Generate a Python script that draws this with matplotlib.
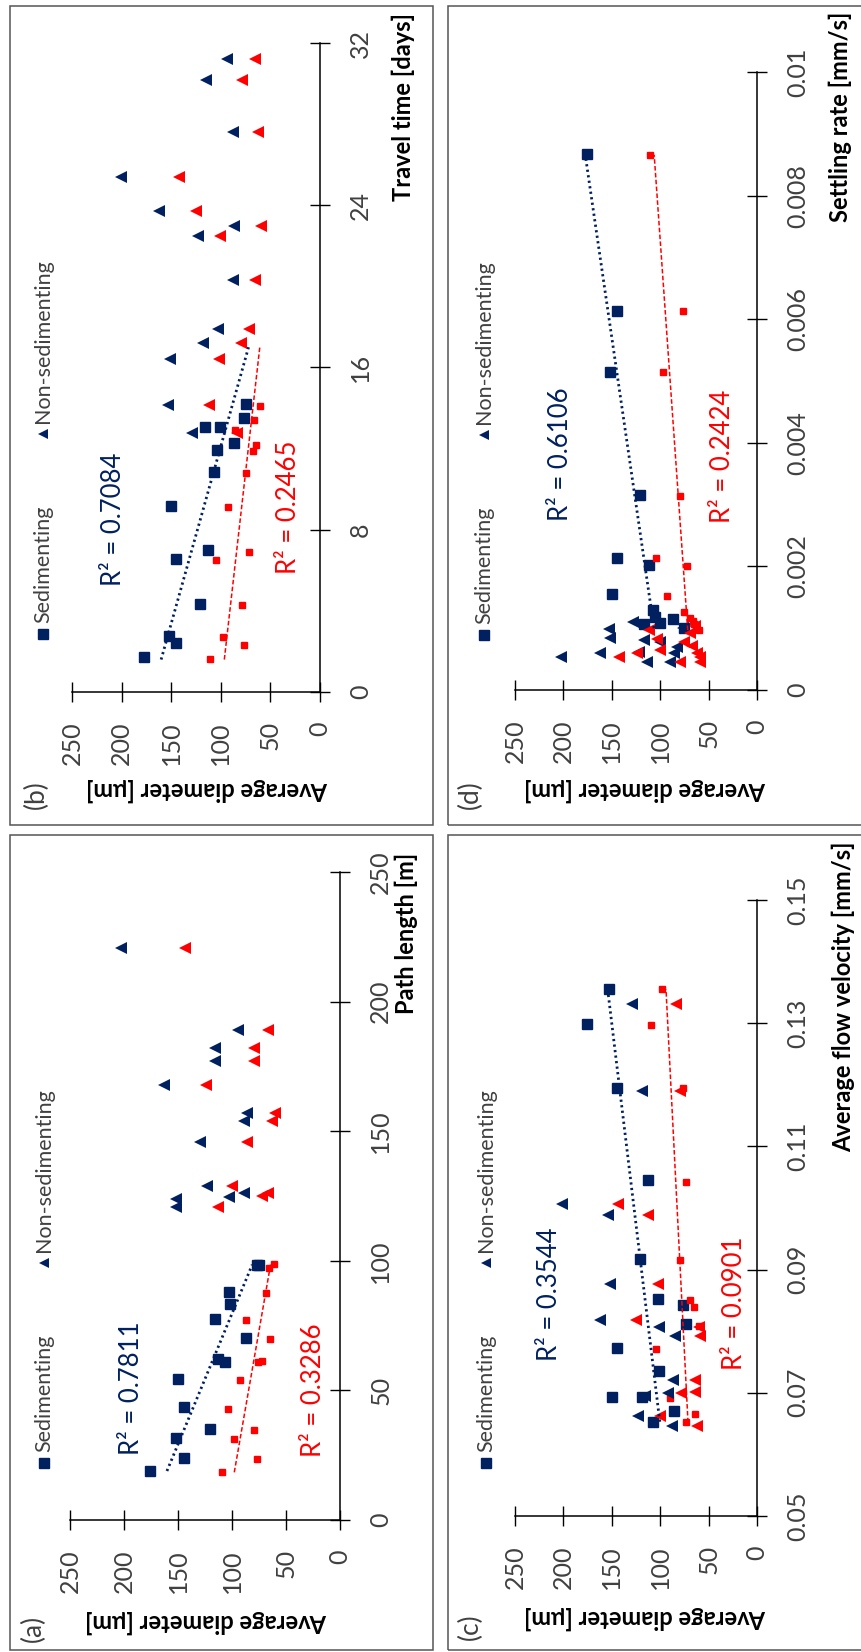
import numpy as np
import matplotlib.pyplot as plt
from matplotlib.lines import Line2D
from matplotlib.patches import Rectangle

plt.rcParams['font.family'] = ['Lato', 'DejaVu Sans']

# ---- data (diameter in um) ----
diam_ticks = [0, 50, 100, 150, 200, 250]

# (a) path length [m]
a_sed_path = [18.9, 24, 31.8, 35, 43.5, 54.5, 62, 61, 70.4, 77.7, 83.3, 88, 98.5, 98.5]
a_sed_d1 = [176, 144, 152, 120, 144, 150, 113, 106.5, 87, 116, 102, 103, 77, 75]
a_sed_path_r = [18.4, 23.5, 31.3, 34.7, 42.8, 54, 61, 61.5, 70, 77, 87.6, 97.4, 98.8]
a_sed_d2 = [109.6, 77, 97.8, 79.3, 104, 92.6, 75.6, 72, 64.8, 87.3, 68.8, 65.4, 60.8]
a_non_path = [220.8, 189, 182, 177, 168, 157, 154, 145.7, 129, 126, 124.6, 124, 120.8]
a_non_d1 = [203, 94, 116, 116, 162.6, 86.4, 88.6, 130, 123.5, 88.6, 103, 152, 152]
a_non_path_r = [220.8, 189, 182, 177, 168, 157, 154, 145.7, 129, 126, 125, 120.8]
a_non_d2 = [143.5, 66.4, 79.3, 80, 124.4, 60, 62.7, 85.8, 100.3, 66.4, 72, 113]
a_ticks = [0, 50, 100, 150, 200, 250]
a_ticklabels = ['0', '50', '100', '150', '200', '250']
a_r2 = ['R² = 0.7811', 'R² = 0.3286']

# (b) travel time [days]
b_sed_t = [1.72, 2.75, 2.42, 4.36, 6.57, 7.0, 9.19, 10.86, 11.94, 12.29, 13.06, 13.06, 13.5, 14.19]
b_sed_d1 = [177, 152.7, 145, 120.8, 145, 112.4, 150, 106.4, 103.4, 86.2, 116.4, 100.7, 76.2, 74.8]
b_sed_t_r = [1.63, 2.31, 2.69, 4.3, 6.5, 6.9, 9.1, 10.8, 11.9, 12.2, 12.9, 13.4, 14.1]
b_sed_d2 = [110.7, 76.2, 97.3, 78.9, 104.7, 71.5, 92.3, 74.5, 67.1, 64.4, 85.6, 66.1, 60.4]
b_non_t = [14.17, 12.78, 16.4, 17.2, 17.9, 20.3, 22.5, 23.0, 23.7, 25.4, 27.6, 30.2, 31.2]
b_non_d1 = [153.4, 129.2, 151, 118, 103, 87.2, 122.5, 86.2, 162, 201, 87.9, 114.8, 93.3]
b_non_d2 = [111.7, 84, 101.7, 79.9, 71.1, 65.4, 100.7, 59.7, 124.5, 142.6, 62.1, 78.9, 65.4]
b_trend_range = [1.6, 17.0]
b_ticks = [0, 8, 16, 24, 32]
b_ticklabels = ['0', '8', '16', '24', '32']
b_r2 = ['R² = 0.7084', 'R² = 0.2465']

# (c) average flow velocity [mm/s]
c_sed_v = [0.1356, 0.1298, 0.1195, 0.1045, 0.0918, 0.0852, 0.0842, 0.0811, 0.0773, 0.0735,
           0.0693, 0.0693, 0.0670, 0.0653]
c_sed_d1 = [152.7, 176, 145.1, 112.4, 120.4, 102.1, 76.3, 73.6, 145.1, 101.1, 149.6, 118.3, 86, 107.3]
c_sed_v_r = [0.1355, 0.1297, 0.1194, 0.1043, 0.0916, 0.0851, 0.0840, 0.0809, 0.0771, 0.0691,
             0.0666, 0.0652]
c_sed_d2 = [97.7, 109.7, 76.3, 72.9, 79.1, 68.8, 65.3, 59.8, 103.9, 90.1, 63.6, 73.6]
c_non_v = [0.1331, 0.1190, 0.1007, 0.0989, 0.0876, 0.0818, 0.0807, 0.0793, 0.0720, 0.0699,
           0.0695, 0.0662, 0.0646]
c_non_d1 = [129, 118.3, 201.9, 153.7, 152, 162.3, 101.1, 84.3, 86.7, 91.8, 115.9, 122.8, 87.3]
c_non_v_r = [0.1331, 0.1190, 0.1007, 0.0989, 0.0876, 0.0818, 0.0807, 0.0793, 0.0720, 0.0702,
             0.0699, 0.0662, 0.0646]
c_non_d2 = [83.2, 79.1, 143.4, 112.4, 102.1, 124.5, 59.8, 58.5, 64.3, 64.3, 78, 100.4, 61.9]
c_ticks = [0.05, 0.07, 0.09, 0.11, 0.13, 0.15]
c_ticklabels = ['0.05', '0.07', '0.09', '0.11', '0.13', '0.15']
c_r2 = ['R² = 0.3544', 'R² = 0.0901']

# (d) settling rate [mm/s]
d_sed_s = [0.00868, 0.00614, 0.00515, 0.00316, 0.00214, 0.00202, 0.00155, 0.00129, 0.00109,
           0.00107, 0.00115, 0.00100, 0.00118]
d_sed_d1 = [175.9, 144.8, 151.7, 120.7, 144.8, 112, 149.3, 107.6, 100.7, 117.2, 87.2, 75.9, 105]
d_sed_s_r = [0.00866, 0.00613, 0.00514, 0.00314, 0.00213, 0.00200, 0.00152, 0.00126, 0.00111,
             0.00106, 0.00097, 0.00116, 0.00102]
d_sed_d2 = [110.3, 76.6, 97.2, 80, 104.5, 72.4, 93.1, 75.2, 66.2, 64.8, 60.3, 69, 62.8]
d_non_s = [0.00053, 0.0006, 0.00099, 0.00084, 0.0011, 0.00062, 0.00081, 0.00046, 0.00078,
           0.00046, 0.0006, 0.0007, 0.001]
d_non_d1 = [202.8, 162, 152.4, 152, 128.3, 122.4, 117.2, 113.8, 100, 90.3, 86.2, 82.8, 76]
d_non_s_r = [0.00053, 0.0006, 0.00097, 0.00082, 0.00064, 0.00046, 0.00078, 0.00071, 0.0006,
             0.00053, 0.00046, 0.00093, 0.00104]
d_non_d2 = [143, 124, 112, 103.4, 100.7, 80, 75.9, 67.2, 62, 58.6, 58.6, 69, 64]
d_ticks = [0, 0.002, 0.004, 0.006, 0.008, 0.01]
d_ticklabels = ['0', '0.002', '0.004', '0.006', '0.008', '0.01']
d_r2 = ['R² = 0.6106', 'R² = 0.2424']

NAVY = '#002060'
RED = '#ff0000'
GREY = '#404040'
W, H = 861, 1652

fig = plt.figure(figsize=(W / 100, H / 100), dpi=100)


def fx(px):
    return px / W


def fy(py):
    return 1 - py / H


def make_panel(ax_px, ylim, ticks, ticklabels):
    x0, x1, y0, y1 = ax_px
    ax = fig.add_axes([fx(x0), fy(y1), (x1 - x0) / W, (y1 - y0) / H])
    ax.patch.set_visible(False)
    ax.set_xlim(250, 0)
    ax.set_ylim(*ylim)
    ax.spines['top'].set_visible(False)
    ax.spines['left'].set_visible(False)
    for s in ['bottom', 'right']:
        ax.spines[s].set_linewidth(1.1)
    ax.yaxis.tick_right()
    ax.set_xticks(diam_ticks)
    ax.set_xticklabels([str(t) for t in diam_ticks], rotation=90)
    ax.set_yticks(ticks)
    ax.set_yticklabels(ticklabels, rotation=90, va='center')
    ax.tick_params(direction='inout', length=14, width=1, pad=14,
                   labelsize=18, labelcolor=GREY)
    return ax


def draw_series(ax, sx, sd1, sxr, sd2, nx, nd1, nxr, nd2, trend1=None, trend2=None):
    ax.plot(sd1, sx, 's', ms=7, color=NAVY, clip_on=False)
    ax.plot(sd2, sxr, 's', ms=5, color=RED, clip_on=False)
    ax.plot(nd1, nx, '<', ms=8, color=NAVY, mew=0, clip_on=False)
    ax.plot(nd2, nxr, '<', ms=8, color=RED, mew=0, clip_on=False)
    # linear trendlines of the sedimenting series
    r1 = trend1 if trend1 else [min(sx), max(sx)]
    r2 = trend2 if trend2 else [min(sxr), max(sxr)]
    c1 = np.polyfit(sx, sd1, 1)
    c2 = np.polyfit(sxr, sd2, 1)
    ax.plot(np.polyval(c1, r1), r1, color=NAVY, lw=2.0, ls=(0, (0.8, 1.2)))
    ax.plot(np.polyval(c2, r2), r2, color=RED, lw=1.1, ls=(0, (3, 1.5)))


def decorate(box, dlab, tag, xlab, xlab_text, leg, r2, r2pos, ax):
    bx0, by0, bx1, by1 = box
    fig.add_artist(Rectangle((fx(bx0), fy(by1)), (bx1 - bx0) / W, (by1 - by0) / H,
                             transform=fig.transFigure, fill=False, ec='#555555', lw=1.1))
    fig.text(fx(dlab[0]), fy(dlab[1]), 'Average diameter [μm]', rotation=180,
             ha='center', va='center', fontsize=17, fontweight='bold')
    fig.text(fx(tag[1][0]), fy(tag[1][1]), tag[0], rotation=90, ha='center',
             va='center', fontsize=19, color=GREY)
    fig.text(fx(xlab[0]), fy(xlab[1]), xlab_text, rotation=90, ha='center',
             va='top', fontsize=17, fontweight='bold')
    lx, sq_y, tri_y = leg
    fig.add_artist(Line2D([fx(lx)], [fy(sq_y)], marker='s', ms=6.5, color=NAVY,
                          ls='none', transform=fig.transFigure))
    fig.add_artist(Line2D([fx(lx)], [fy(tri_y)], marker='<', ms=7, color=NAVY,
                          ls='none', mew=0, transform=fig.transFigure))
    fig.text(fx(lx), fy(sq_y - 11), 'Sedimenting', rotation=90, ha='center',
             va='bottom', fontsize=15.5, color=GREY)
    fig.text(fx(lx), fy(tri_y - 11), 'Non-sedimenting', rotation=90, ha='center',
             va='bottom', fontsize=15.5, color=GREY)
    ax.text(r2pos[0][0], r2pos[0][1], r2[0], rotation=90, ha='center', va='center',
            fontsize=18.5, color=NAVY)
    ax.text(r2pos[1][0], r2pos[1][1], r2[1], rotation=90, ha='center', va='center',
            fontsize=18.5, color=RED)


# (a)
ax_a = make_panel((70, 340, 872, 1520), (0, 250), a_ticks, a_ticklabels)
draw_series(ax_a, a_sed_path, a_sed_d1, a_sed_path_r, a_sed_d2,
            a_non_path, a_non_d1, a_non_path_r, a_non_d2)
decorate((10, 835, 433, 1650), (206, 1622), ('(a)', (33, 1628)), (406, 853),
         'Path length [m]', (44, 1463, 1263), a_r2, [(193, 51), (24.7, 50)], ax_a)

# (b)
ax_b = make_panel((72, 320, 43, 692), (0, 32), b_ticks, b_ticklabels)
draw_series(ax_b, b_sed_t, b_sed_d1, b_sed_t_r, b_sed_d2,
            b_non_t, b_non_d1, b_non_t, b_non_d2, b_trend_range, b_trend_range)
decorate((10, 6, 433, 825), (207, 790), ('(b)', (36, 795)), (403, 13),
         'Travel time [days]', (43, 634, 434), b_r2, [(208, 8.5), (31.9, 9.1)], ax_b)

# (c)
ax_c = make_panel((515, 757, 900, 1516), (0.05, 0.15), c_ticks, c_ticklabels)
draw_series(ax_c, c_sed_v, c_sed_d1, c_sed_v_r, c_sed_d2,
            c_non_v, c_non_d1, c_non_v_r, c_non_d2)
decorate((448, 835, 880, 1650), (645, 1618), ('(c)', (470, 1627)), (843, 842),
         'Average flow velocity [mm/s]', (486, 1463, 1263), c_r2,
         [(214, 0.086), (23, 0.0846)], ax_c)

# (d)
ax_d = make_panel((515, 757, 72, 690), (0, 0.01), d_ticks, d_ticklabels)
draw_series(ax_d, d_sed_s, d_sed_d1, d_sed_s_r, d_sed_d2,
            d_non_s, d_non_d1, d_non_s_r, d_non_d2)
decorate((448, 6, 880, 825), (645, 790), ('(d)', (470, 795)), (840, 12),
         'Settling rate [mm/s]', (484, 635, 435), d_r2,
         [(203, 0.00382), (36, 0.00378)], ax_d)

fig.savefig('out.png', dpi=100)
